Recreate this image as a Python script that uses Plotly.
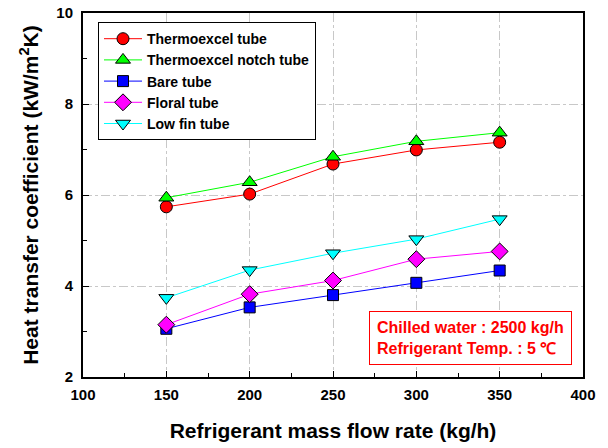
import plotly.graph_objects as go

flow = [150, 200, 250, 300, 350]
thermoexcel = [5.74, 6.02, 6.68, 6.99, 7.16]
notch = [5.94, 6.28, 6.84, 7.18, 7.37]
bare = [3.06, 3.53, 3.80, 4.07, 4.34]
floral = [3.15, 3.82, 4.12, 4.59, 4.76]
lowfin = [3.74, 4.35, 4.72, 5.03, 5.47]

names = ["Thermoexcel tube", "Thermoexcel notch tube", "Bare tube", "Floral tube", "Low fin tube"]
series = [thermoexcel, notch, bare, floral, lowfin]
colors = ["#ff0000", "#00ff00", "#0000ff", "#ff00ff", "#00ffff"]
symbols = ["circle", "triangle-up", "square", "diamond", "triangle-down"]
sizes = [12, 13, 11, 13, 13]

fig = go.Figure()
for n, s, c, sym, sz in zip(names, series, colors, symbols, sizes):
    fig.add_trace(go.Scatter(
        x=flow, y=s, name=n, mode="lines+markers",
        line=dict(color=c, width=1),
        marker=dict(symbol=sym, size=sz, color=c, line=dict(color="black", width=1)),
    ))

font_family = "Liberation Sans, Arial, sans-serif"
fig.update_layout(
    width=608, height=448,
    margin=dict(l=83, r=25, t=13, b=71),
    plot_bgcolor="white", paper_bgcolor="white",
    font=dict(family=font_family, color="black"),
    showlegend=True,
    legend=dict(
        x=0.03, y=0.975, xanchor="left", yanchor="top",
        bgcolor="white", bordercolor="black", borderwidth=1,
        font=dict(size=14, weight="bold", family=font_family),
        tracegroupgap=0, itemwidth=38,
    ),
    xaxis=dict(
        range=[100, 400], tickvals=[100, 150, 200, 250, 300, 350, 400],
        ticks="inside", ticklen=6, tickcolor="black",
        minor=dict(ticks="inside", ticklen=4, dtick=25, tickcolor="black", showgrid=False),
        showgrid=True, gridcolor="#c8c8c8", griddash="dashdot", gridwidth=1,
        showline=True, linecolor="black", linewidth=2, mirror=True,
        tickfont=dict(size=15, weight="bold"), ticklabelstandoff=3,
        title=dict(text="Refrigerant mass flow rate (kg/h)", font=dict(size=21, weight="bold"), standoff=21),
        zeroline=False, automargin=False,
    ),
    yaxis=dict(
        range=[2, 10], tickvals=[2, 4, 6, 8, 10],
        ticks="inside", ticklen=6, tickcolor="black",
        minor=dict(ticks="inside", ticklen=4, dtick=1, tickcolor="black", showgrid=False),
        showgrid=True, gridcolor="#c8c8c8", griddash="dashdot", gridwidth=1,
        showline=True, linecolor="black", linewidth=2, mirror=True,
        tickfont=dict(size=15, weight="bold"), ticklabelstandoff=5,
        title=dict(text="Heat transfer coefficient (kW/m<sup>2</sup>K)", font=dict(size=21, weight="bold"), standoff=12),
        zeroline=False, automargin=False,
    ),
)

fig.add_annotation(
    xref="paper", yref="paper", x=0.978, y=0.107, xanchor="right", yanchor="middle",
    text="Chilled water : 2500 kg/h<br>Refrigerant Temp. : 5 ℃",
    showarrow=False, align="left",
    font=dict(size=16, color="#ff0000", weight="bold", family=font_family),
    bordercolor="#ff0000", borderwidth=1, bgcolor="white", borderpad=7,
)

fig.write_html(
    "out.html",
    config={"displayModeBar": False},
    post_script="document.body.style.margin='0';document.body.style.overflow='hidden';",
)
